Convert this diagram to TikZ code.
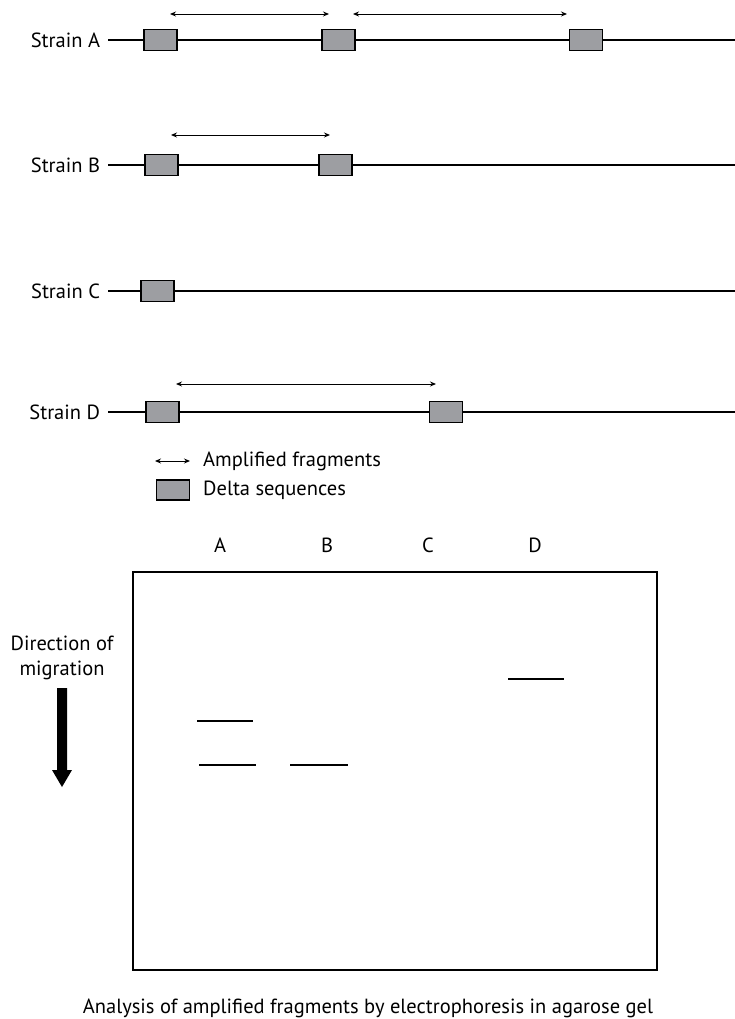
\documentclass[tikz,border=0pt]{standalone}
\usepackage{fontspec}
\setmainfont{PT Sans}
\usetikzlibrary{arrows.meta}
\definecolor{deltagray}{RGB}{157,158,162}
\begin{document}
\begin{tikzpicture}[x=1pt,y=-1pt,
  txt/.style={font=\fontsize{20.5}{25}\selectfont, inner sep=0pt},
  strainlabel/.style={txt, anchor=east, outer sep=8pt},
  dna/.style={line width=1.6pt},
  delta/.style={draw, fill=deltagray, line width=1.3pt, minimum width=33pt,
    minimum height=21pt, inner sep=0pt},
  frag/.style={line width=0.9pt, {Stealth[length=6pt,width=5pt]}-{Stealth[length=6pt,width=5pt]}},
  band/.style={line width=2.6pt},
]
\useasboundingbox (0,0) rectangle (735,1019);

% ---------- chromosomes with delta sequences ----------
% Strain A
\node[strainlabel] (labA) at (108,40) {Strain A};
\node[delta] (a1) at (160.5,40) {};
\node[delta] (a2) at (338.5,40) {};
\node[delta] (a3) at (586,40) {};
\coordinate (endA) at (735,40);
\draw[dna] (labA) -- (a1) -- (a2) -- (a3) -- (endA);
\coordinate (fa1s) at (170,14);  \coordinate (fa1e) at (329,14);
\coordinate (fa2s) at (353,14);  \coordinate (fa2e) at (567,14);
\draw[frag] (fa1s) -- (fa1e);
\draw[frag] (fa2s) -- (fa2e);

% Strain B
\node[strainlabel] (labB) at (108,165) {Strain B};
\node[delta] (b1) at (161.5,165) {};
\node[delta] (b2) at (335.5,165) {};
\coordinate (endB) at (735,165);
\draw[dna] (labB) -- (b1) -- (b2) -- (endB);
\coordinate (fbs) at (171,135);  \coordinate (fbe) at (330,135);
\draw[frag] (fbs) -- (fbe);

% Strain C
\node[strainlabel] (labC) at (108,291) {Strain C};
\node[delta] (c1) at (157.5,291) {};
\coordinate (endC) at (735,291);
\draw[dna] (labC) -- (c1) -- (endC);

% Strain D
\node[strainlabel] (labD) at (108,412) {Strain D};
\node[delta] (d1) at (162.5,412) {};
\node[delta] (d2) at (446,412) {};
\coordinate (endD) at (735,412);
\draw[dna] (labD) -- (d1) -- (d2) -- (endD);
\coordinate (fds) at (176,384);  \coordinate (fde) at (436,384);
\draw[frag] (fds) -- (fde);

% ---------- legend ----------
\coordinate (lfs) at (155,461);  \coordinate (lfe) at (190,461);
\draw[frag] (lfs) -- (lfe);
\node[txt, anchor=base west] (lfrag) at (203,466) {Amplified fragments};
\node[delta, minimum height=20pt] (ldelta) at (173,490) {};
\node[txt, anchor=base west] (ldeltatxt) at (203,495) {Delta sequences};

% ---------- agarose gel ----------
\node[txt, anchor=base] (laneA) at (220,552) {A};
\node[txt, anchor=base] (laneB) at (327,552) {B};
\node[txt, anchor=base] (laneC) at (428,552) {C};
\node[txt, anchor=base] (laneD) at (535,552) {D};

\node[draw, line width=1.6pt, minimum width=524pt, minimum height=398pt,
  inner sep=0pt] (gel) at (395,771) {};

\draw[band] (508,679) -- (564,679);
\draw[band] (197,721) -- (253,721);
\draw[band] (199,765) -- (256,765);
\draw[band] (290,765) -- (348,765);

% direction of migration
\node[txt, anchor=base] (dir1) at (62,650) {Direction of};
\node[txt, anchor=base] (dir2) at (62,675) {migration};
\fill (57,688) -- (67,688) -- (67,770) -- (72,770) -- (62,787)
  -- (52,770) -- (57,770) -- cycle;

% caption
\node[txt, anchor=base] (caption) at (368,1013)
  {Analysis of amplified fragments by electrophoresis in agarose gel};
\end{tikzpicture}
\end{document}
